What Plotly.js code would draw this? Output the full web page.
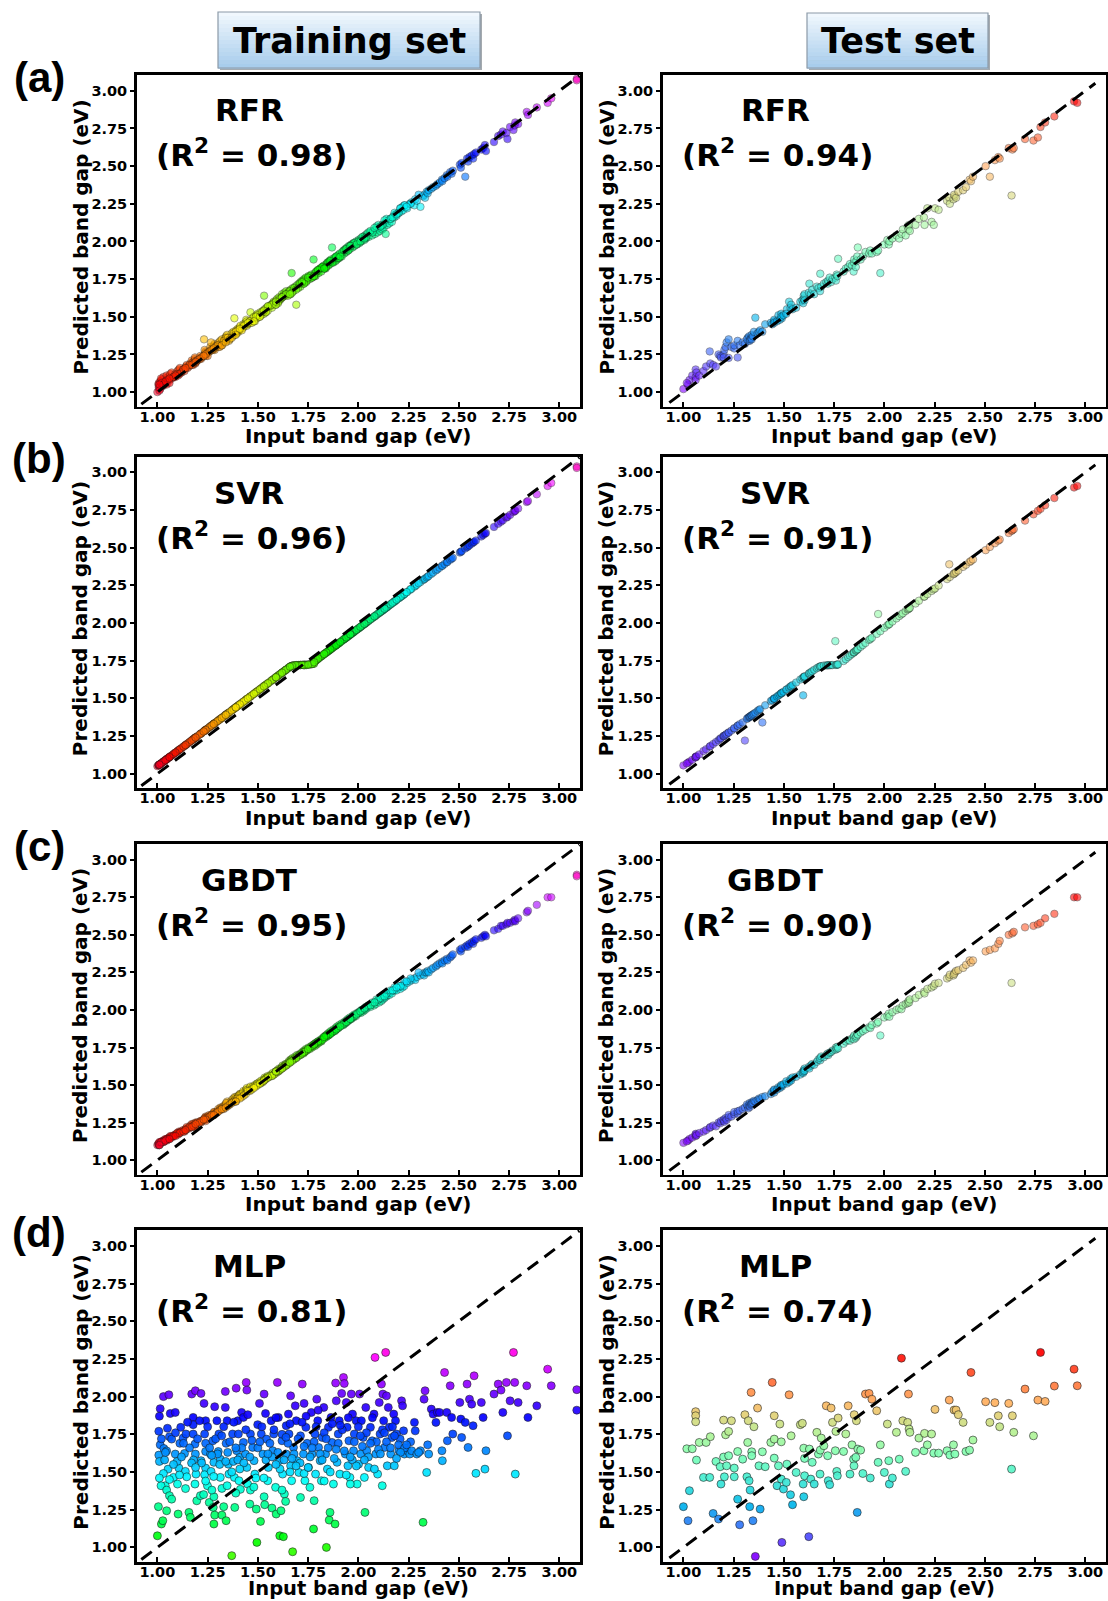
<!DOCTYPE html>
<html><head><meta charset="utf-8">
<script src="https://cdn.plot.ly/plotly-3.0.1.min.js"></script>
<style>html,body{margin:0;padding:0;background:#fff}</style>
</head><body><div id="chart" style="width:1108px;height:1601px"></div>
<script>
// ---------------- DATA ----------------
const tickVals = [1.00,1.25,1.50,1.75,2.00,2.25,2.50,2.75,3.00];
const tickText = ['1.00','1.25','1.50','1.75','2.00','2.25','2.50','2.75','3.00'];
const modelNames = ['RFR','SVR','GBDT','MLP'];
const r2Train = ['0.98','0.96','0.95','0.81'];
const r2Test = ['0.94','0.91','0.90','0.74'];
const panelLabels = ['(a)','(b)','(c)','(d)'];
const headerLabels = ['Training set','Test set'];
const xAxisTitle = 'Input band gap (eV)';
const yAxisTitle = 'Predicted band gap (eV)';
const diagTrain = [0.92, 3.10];
const diagTest = [0.93, 3.05];

// Training set: input band gap
const trainInput = [
1.000,1.005,1.020,1.027,1.014,1.030,1.057,1.010,1.007,1.014,1.032,1.046,1.007,1.010,1.036,1.053,1.039,1.018,1.046,1.060,1.046,1.071,1.064,1.089,1.060,1.071,1.089,1.080,1.100,1.103,1.107,1.098,1.116,1.112,
1.128,1.142,1.135,1.139,1.146,1.157,1.164,1.178,1.178,1.171,1.189,1.217,1.178,1.187,1.189,1.192,1.187,1.196,1.214,1.217,1.232,1.240,1.235,1.240,1.240,1.240,1.235,1.249,1.258,1.278,1.281,1.285,1.281,1.271,1.264,1.276,1.285,1.281,1.267,
1.296,1.306,1.303,1.313,1.313,1.321,1.330,1.321,1.338,1.338,1.347,1.342,1.353,1.356,1.347,1.342,1.370,1.374,1.378,1.383,1.385,1.392,1.400,1.403,1.395,1.410,1.406,1.413,1.419,1.428,1.428,1.438,1.442,1.445,1.445,1.449,1.460,1.463,1.463,
1.474,1.481,1.485,1.492,1.495,1.499,1.508,1.513,1.517,1.525,1.531,1.531,1.534,1.538,1.543,1.549,1.552,1.566,1.570,1.574,1.579,1.588,1.591,1.597,1.602,1.606,1.609,1.627,1.615,1.620,1.623,1.632,1.638,1.641,1.641,
1.652,1.655,1.663,1.663,1.668,1.673,1.677,1.686,1.691,1.695,1.704,1.712,1.712,1.721,1.727,1.730,1.734,1.739,1.745,1.752,1.759,1.766,1.770,1.777,1.784,1.787,1.793,1.798,1.802,1.810,1.816,1.820,
1.828,1.837,1.841,1.846,1.851,1.855,1.859,1.864,1.869,1.876,1.884,1.887,1.890,1.894,1.900,1.905,1.908,1.917,1.926,1.930,1.935,1.940,1.944,1.948,1.953,1.958,1.965,1.971,1.976,1.980,1.989,1.994,
2.001,2.006,2.012,2.015,2.024,2.030,2.033,2.037,2.042,2.051,2.060,2.069,2.078,2.083,2.087,2.096,2.104,2.108,2.115,2.119,2.122,2.126,2.131,2.136,2.140,2.144,2.149,2.154,2.161,2.167,2.176,
2.179,2.185,2.190,2.202,2.208,2.215,2.220,2.225,2.229,2.243,2.256,2.265,2.279,2.283,2.291,2.309,2.322,2.327,2.332,2.340,2.345,2.350,2.363,2.372,2.386,2.393,2.404,2.416,2.418,2.429,2.440,2.443,
2.457,2.464,2.470,2.505,2.510,2.514,2.532,2.541,2.546,2.553,2.564,2.571,2.576,2.585,2.612,2.621,2.630,2.635,2.675,2.696,2.710,2.719,2.737,2.742,2.755,2.772,2.778,2.781,2.795,2.838,2.844,2.888,2.942,2.960,3.087,3.087,
1.02,1.05,1.08,1.12,1.15,1.16,1.20,1.22,1.25,1.26,1.29,1.31,1.33,1.35,1.36,1.38,1.40,1.42,1.44,1.46,1.47,1.50,1.52,1.54,1.56,1.58,1.60,1.62,1.63,1.65,1.66,1.68,1.70,1.71,1.73,1.74,1.76,1.78,1.79,1.81,1.83,1.85,1.87,1.88,1.90,1.92,1.93,1.95,1.97,1.98,2.00,2.02,2.04,2.05,2.07,2.09,2.10,2.12,2.14,2.16,2.18,2.20,2.23,2.26,2.30,1.11,1.24,1.37,1.49,1.61,1.73,1.86,1.99,1.03,1.18,1.30,1.43,1.57,1.69,1.82,
1.04,1.09,1.13,1.17,1.21,1.27,1.32,1.39,1.45,1.51,1.55,1.59,1.64,1.67,1.72,1.77,1.80,1.84,1.89,1.91,1.96,2.01,2.06,2.11,2.13,2.17,2.21,2.24,1.06,1.14,1.19,1.28,1.34,1.41,1.48,1.53,1.59,1.66,1.75,1.83,1.94,2.03,2.08,2.19,1.01,1.23,1.39,1.62,1.78,1.96
];
const trainPredRFR = [
1.00,1.05,1.08,1.04,1.02,1.10,1.09,1.03,1.06,1.07,1.05,1.08,1.03,1.01,1.06,1.10,1.07,1.09,1.05,1.08,1.11,1.09,1.12,1.10,1.06,1.13,1.12,1.10,1.14,1.11,1.15,1.12,1.13,1.16,
1.15,1.17,1.14,1.16,1.18,1.17,1.19,1.20,1.18,1.21,1.19,1.23,1.20,1.22,1.21,1.20,1.23,1.21,1.24,1.22,1.35,1.26,1.25,1.27,1.24,1.26,1.28,1.26,1.27,1.30,1.29,1.28,1.31,1.29,1.30,1.28,1.32,1.30,1.33,
1.31,1.33,1.30,1.32,1.34,1.35,1.33,1.31,1.36,1.34,1.35,1.37,1.36,1.34,1.38,1.36,1.39,1.37,1.40,1.49,1.38,1.41,1.42,1.40,1.39,1.43,1.41,1.44,1.42,1.45,1.43,1.46,1.48,1.44,1.47,1.45,1.47,1.53,1.46,
1.49,1.50,1.47,1.51,1.49,1.52,1.50,1.53,1.51,1.54,1.64,1.52,1.55,1.53,1.56,1.54,1.57,1.58,1.56,1.59,1.60,1.58,1.61,1.62,1.60,1.63,1.61,1.64,1.62,1.65,1.63,1.66,1.64,1.67,1.65,
1.66,1.67,1.68,1.65,1.79,1.69,1.67,1.70,1.58,1.71,1.72,1.70,1.73,1.74,1.72,1.75,1.73,1.76,1.74,1.77,1.75,1.78,1.76,1.88,1.79,1.77,1.80,1.81,1.79,1.82,1.80,1.83,
1.84,1.82,1.85,1.86,1.84,1.87,1.85,1.88,1.96,1.86,1.89,1.87,1.90,1.88,1.91,1.89,1.92,1.90,1.94,1.92,1.95,1.93,1.96,1.94,1.97,1.95,1.98,1.96,1.99,1.97,2.00,1.98,
2.01,1.99,2.02,2.00,2.03,2.01,2.04,2.02,2.05,2.03,2.06,2.04,2.07,2.05,2.08,2.06,2.09,2.07,2.10,2.08,2.11,2.09,2.12,2.05,2.13,2.11,2.14,2.12,2.15,2.13,2.17,
2.16,2.18,2.17,2.19,2.22,2.20,2.23,2.21,2.24,2.22,2.25,2.26,2.24,2.28,2.27,2.23,2.30,2.31,2.29,2.33,2.32,2.34,2.35,2.36,2.37,2.38,2.39,2.41,2.40,2.42,2.44,2.43,
2.46,2.45,2.47,2.51,2.49,2.52,2.43,2.55,2.53,2.56,2.57,2.55,2.58,2.59,2.61,2.62,2.64,2.60,2.66,2.70,2.71,2.73,2.72,2.68,2.76,2.74,2.77,2.79,2.78,2.86,2.84,2.89,2.92,2.95,3.08,3.07,
1.06,1.08,1.10,1.13,1.16,1.18,1.21,1.23,1.24,1.27,1.30,1.30,1.34,1.36,1.35,1.39,1.41,1.41,1.45,1.47,1.46,1.51,1.53,1.53,1.57,1.59,1.59,1.63,1.64,1.64,1.67,1.69,1.69,1.72,1.74,1.73,1.77,1.77,1.80,1.82,1.82,1.86,1.86,1.89,1.89,1.93,1.94,1.94,1.98,1.99,2.00,2.03,2.03,2.06,2.06,2.10,2.11,2.11,2.15,2.15,2.19,2.19,2.24,2.25,2.31,1.12,1.25,1.36,1.50,1.62,1.72,1.87,1.98,1.05,1.19,1.31,1.44,1.58,1.68,1.83,
1.07,1.11,1.15,1.18,1.22,1.28,1.31,1.40,1.46,1.50,1.57,1.58,1.65,1.66,1.73,1.76,1.81,1.83,1.90,1.90,1.97,2.00,2.07,2.10,2.14,2.16,2.22,2.23,1.09,1.16,1.20,1.29,1.33,1.42,1.47,1.54,1.60,1.65,1.76,1.82,1.95,2.02,2.09,2.18,1.05,1.24,1.38,1.63,1.77,1.97
];
const trainPredSVR = [
1.05,1.055,1.07,1.077,1.064,1.08,1.107,1.06,1.057,1.064,1.082,1.096,1.057,1.06,1.086,1.103,1.089,1.068,1.096,1.11,1.096,1.121,1.114,1.139,1.11,1.121,1.139,1.13,1.15,1.153,1.157,1.148,1.166,1.162,
1.178,1.192,1.185,1.189,1.196,1.207,1.214,1.228,1.228,1.221,1.239,1.267,1.228,1.237,1.239,1.242,1.237,1.246,1.264,1.267,1.282,1.29,1.285,1.29,1.29,1.29,1.285,1.299,1.308,1.328,1.331,1.335,1.331,1.321,1.314,1.326,1.335,1.331,1.317,
1.346,1.356,1.353,1.363,1.363,1.371,1.38,1.371,1.388,1.388,1.397,1.392,1.403,1.406,1.397,1.392,1.42,1.424,1.428,1.433,1.435,1.442,1.45,1.453,1.445,1.46,1.456,1.463,1.469,1.478,1.478,1.488,1.492,1.495,1.495,1.499,1.51,1.513,1.513,
1.524,1.531,1.535,1.542,1.545,1.549,1.558,1.563,1.567,1.575,1.581,1.581,1.584,1.588,1.593,1.599,1.602,1.616,1.62,1.624,1.629,1.638,1.641,1.647,1.652,1.656,1.659,1.677,1.665,1.67,1.673,1.682,1.688,1.691,1.691,
1.702,1.705,1.712,1.713,1.716,1.718,1.719,1.72,1.721,1.721,1.722,1.722,1.722,1.723,1.723,1.723,1.724,1.724,1.724,1.725,1.726,1.727,1.728,1.73,1.745,1.75,1.755,1.76,1.765,1.773,1.779,1.783,
1.791,1.8,1.804,1.809,1.814,1.818,1.822,1.827,1.832,1.839,1.847,1.85,1.853,1.857,1.863,1.868,1.871,1.88,1.889,1.893,1.898,1.903,1.907,1.911,1.916,1.921,1.928,1.934,1.939,1.943,1.952,1.957,
1.964,1.969,1.975,1.978,1.987,1.993,1.996,2.0,2.005,2.014,2.023,2.032,2.041,2.046,2.05,2.059,2.067,2.071,2.078,2.082,2.085,2.089,2.094,2.099,2.103,2.107,2.112,2.117,2.124,2.13,2.139,
2.142,2.148,2.153,2.165,2.171,2.178,2.183,2.188,2.192,2.206,2.219,2.228,2.242,2.246,2.254,2.272,2.285,2.29,2.295,2.303,2.308,2.313,2.326,2.335,2.349,2.356,2.367,2.379,2.381,2.392,2.403,2.406,
2.42,2.427,2.433,2.468,2.473,2.477,2.495,2.504,2.509,2.516,2.527,2.534,2.539,2.548,2.575,2.584,2.593,2.598,2.638,2.659,2.673,2.682,2.7,2.705,2.718,2.737,2.743,2.746,2.76,2.804,2.81,2.855,2.91,2.93,3.04,3.03,
1.07,1.10,1.13,1.17,1.20,1.21,1.25,1.27,1.30,1.31,1.34,1.36,1.38,1.40,1.41,1.43,1.45,1.47,1.49,1.51,1.52,1.55,1.57,1.59,1.61,1.63,1.65,1.67,1.68,1.70,1.71,1.72,1.72,1.72,1.72,1.72,1.725,1.73,1.755,1.775,1.795,1.815,1.835,1.845,1.865,1.885,1.895,1.915,1.935,1.945,1.965,1.985,2.005,2.015,2.035,2.055,2.065,2.085,2.105,2.125,2.145,2.165,2.195,2.225,2.265,1.16,1.29,1.42,1.54,1.66,1.72,1.825,1.955,1.08,1.23,1.35,1.48,1.62,1.72,1.785,
1.09,1.14,1.18,1.22,1.26,1.32,1.37,1.44,1.50,1.56,1.60,1.64,1.69,1.715,1.722,1.728,1.765,1.805,1.855,1.875,1.925,1.975,2.025,2.075,2.095,2.135,2.175,2.205,1.11,1.19,1.24,1.33,1.39,1.46,1.53,1.58,1.64,1.71,1.724,1.795,1.905,1.995,2.045,2.155,1.06,1.28,1.44,1.67,1.74,1.925
];
const trainPredGBDT = [
1.10,1.11,1.12,1.13,1.11,1.12,1.15,1.10,1.11,1.12,1.13,1.14,1.10,1.12,1.13,1.14,1.14,1.12,1.13,1.15,1.14,1.15,1.16,1.17,1.14,1.16,1.17,1.16,1.18,1.17,1.19,1.18,1.19,1.18,
1.20,1.21,1.19,1.20,1.22,1.21,1.23,1.23,1.22,1.24,1.23,1.26,1.24,1.23,1.25,1.24,1.22,1.25,1.26,1.25,1.27,1.28,1.27,1.29,1.26,1.28,1.28,1.29,1.30,1.31,1.30,1.32,1.31,1.30,1.29,1.30,1.31,1.32,1.30,
1.32,1.33,1.34,1.34,1.35,1.35,1.36,1.34,1.36,1.37,1.37,1.36,1.38,1.37,1.39,1.38,1.40,1.39,1.41,1.40,1.42,1.42,1.42,1.43,1.41,1.44,1.43,1.44,1.44,1.45,1.46,1.46,1.47,1.46,1.48,1.47,1.48,1.49,1.47,
1.49,1.49,1.50,1.50,1.51,1.51,1.52,1.51,1.53,1.52,1.54,1.53,1.55,1.54,1.55,1.56,1.55,1.57,1.56,1.58,1.57,1.59,1.58,1.60,1.59,1.61,1.60,1.62,1.61,1.62,1.63,1.63,1.64,1.64,1.63,
1.65,1.66,1.66,1.67,1.67,1.68,1.67,1.69,1.68,1.70,1.70,1.71,1.70,1.72,1.71,1.73,1.72,1.74,1.73,1.75,1.74,1.76,1.75,1.77,1.76,1.78,1.77,1.79,1.78,1.80,1.79,1.81,
1.82,1.83,1.82,1.84,1.83,1.85,1.84,1.86,1.85,1.87,1.86,1.88,1.87,1.89,1.88,1.90,1.89,1.91,1.90,1.92,1.91,1.93,1.92,1.94,1.93,1.95,1.94,1.96,1.95,1.97,1.96,1.98,
1.98,1.99,1.98,2.00,1.99,2.01,2.00,2.02,2.01,2.03,2.02,2.04,2.03,2.05,2.04,2.06,2.05,2.07,2.06,2.08,2.07,2.09,2.08,2.10,2.09,2.10,2.11,2.10,2.12,2.11,2.13,
2.13,2.14,2.13,2.15,2.14,2.16,2.15,2.17,2.16,2.18,2.19,2.20,2.21,2.20,2.22,2.23,2.24,2.23,2.25,2.25,2.26,2.25,2.27,2.28,2.29,2.30,2.31,2.32,2.31,2.33,2.34,2.33,
2.35,2.36,2.37,2.40,2.39,2.41,2.42,2.43,2.42,2.44,2.45,2.44,2.46,2.47,2.48,2.49,2.50,2.49,2.53,2.54,2.56,2.56,2.57,2.58,2.58,2.59,2.60,2.59,2.61,2.65,2.66,2.70,2.75,2.75,2.90,2.89,
1.12,1.14,1.16,1.19,1.21,1.22,1.25,1.26,1.28,1.29,1.31,1.33,1.34,1.36,1.37,1.39,1.41,1.42,1.44,1.46,1.47,1.50,1.52,1.54,1.56,1.57,1.59,1.61,1.62,1.64,1.65,1.67,1.69,1.70,1.72,1.73,1.75,1.77,1.78,1.79,1.81,1.83,1.85,1.86,1.88,1.90,1.91,1.93,1.95,1.96,1.98,2.00,2.02,2.03,2.05,2.07,2.07,2.09,2.11,2.13,2.15,2.16,2.19,2.21,2.25,1.18,1.27,1.38,1.49,1.60,1.72,1.84,1.97,1.12,1.23,1.32,1.43,1.56,1.68,1.80,
1.13,1.16,1.19,1.22,1.25,1.30,1.34,1.39,1.46,1.51,1.55,1.59,1.63,1.66,1.71,1.76,1.79,1.83,1.87,1.89,1.94,1.99,2.03,2.08,2.09,2.13,2.16,2.19,1.14,1.20,1.24,1.30,1.35,1.41,1.48,1.53,1.59,1.65,1.74,1.82,1.92,2.01,2.05,2.15,1.10,1.27,1.39,1.61,1.77,1.94
];
const trainPredMLP = [
1.077,1.270,1.155,1.177,1.920,2.000,2.012,1.870,1.770,1.680,1.656,1.640,1.612,1.570,1.580,1.519,1.409,1.409,1.380,1.343,1.243,1.320,1.888,1.895,1.734,1.718,1.619,1.464,1.420,1.221,1.526,1.570,1.796,1.690,
1.725,1.752,1.623,1.504,1.468,1.232,1.199,1.862,1.814,2.017,2.039,2.021,1.752,1.685,1.619,1.486,1.420,1.309,1.343,1.575,1.955,1.840,1.752,1.690,1.636,1.526,1.482,1.409,1.298,1.265,1.155,1.214,1.336,1.380,1.619,1.707,1.933,1.564,1.504,
1.840,1.752,1.636,1.585,1.464,1.391,1.270,1.214,2.034,1.928,1.840,1.690,1.552,1.486,1.409,1.177,0.945,1.752,1.570,1.464,1.265,2.056,1.840,1.752,1.641,1.597,1.442,1.385,1.895,1.862,1.696,1.619,2.094,2.043,1.530,1.420,1.287,1.752,1.380,
1.663,1.575,1.486,1.254,1.033,1.814,1.955,1.172,1.752,1.619,2.017,1.336,1.283,1.888,1.718,1.442,1.530,1.840,1.261,1.641,1.752,1.398,1.221,2.094,1.862,1.575,1.077,1.071,1.243,1.707,1.486,1.354,1.305,1.807,1.619,
1.884,1.752,2.005,1.541,1.442,0.971,1.663,1.939,1.840,1.575,1.497,1.331,1.740,2.083,1.619,1.955,1.442,1.796,1.690,1.530,1.398,1.895,1.619,1.122,1.752,1.486,1.983,1.840,1.663,1.575,1.442,1.729,
1.928,1.619,1.000,1.519,1.796,1.181,1.232,1.862,1.696,1.420,1.155,2.090,1.972,1.564,1.752,1.840,1.486,2.021,2.127,2.087,1.619,1.961,1.796,1.541,1.707,1.464,2.017,1.884,1.641,1.752,1.840,1.420,
1.552,2.017,1.619,1.840,1.729,1.464,1.232,1.928,1.641,1.530,1.796,1.707,1.884,2.260,1.619,1.486,1.961,1.752,2.083,1.409,2.017,1.840,1.663,2.293,2.005,1.541,1.928,1.796,1.619,1.729,1.884,
1.541,1.840,1.752,1.641,1.718,1.972,1.939,1.773,1.619,1.641,1.619,1.641,1.829,1.773,1.619,1.641,1.166,1.983,2.039,1.497,1.680,1.619,1.917,1.884,1.829,1.895,1.895,1.641,1.575,2.160,1.895,1.707,
2.072,1.862,1.752,1.961,1.851,1.729,1.829,2.083,1.663,1.983,1.950,1.807,2.138,1.491,1.961,1.862,1.519,1.641,2.017,2.083,2.043,1.895,2.094,1.740,1.972,2.293,2.094,1.486,1.961,2.072,1.862,1.939,2.182,2.072,2.046,1.910,
1.72,1.79,1.55,1.60,1.83,1.66,1.72,1.56,1.80,1.66,1.72,1.55,1.80,1.63,1.70,1.83,1.58,1.66,1.78,1.60,1.71,1.66,1.80,1.58,1.69,1.78,1.63,1.75,1.58,1.69,1.82,1.62,1.72,1.56,1.67,1.87,1.60,1.70,1.80,1.62,1.76,1.66,1.82,1.59,1.69,1.78,1.64,1.86,1.58,1.70,1.80,1.67,1.76,1.60,1.86,1.70,1.65,1.78,1.70,1.66,1.74,1.68,1.66,1.70,1.63,1.48,1.44,1.50,1.46,1.52,1.49,1.50,1.54,1.49,1.58,1.62,1.56,1.60,1.54,1.58,
1.63,1.76,1.69,1.56,1.84,1.61,1.74,1.66,1.88,1.70,1.62,1.86,1.73,1.59,1.83,1.66,1.91,1.72,1.65,1.81,1.60,1.74,1.69,1.62,1.76,1.80,1.63,1.68,1.45,1.39,1.53,1.47,1.57,1.52,1.40,1.46,1.55,1.50,1.53,1.44,1.48,1.58,1.52,1.59,1.46,1.35,1.36,1.38,1.31,1.42
];

// Test set: input band gap
const testInput = [
1.000,1.023,1.030,1.017,1.044,1.061,1.061,1.061,1.065,1.079,
1.100,1.113,1.131,1.134,1.148,1.162,1.175,1.183,1.187,1.200,
1.200,1.204,1.210,1.215,1.225,1.225,1.239,1.253,1.253,1.270,
1.270,1.280,1.295,1.306,1.320,1.323,1.316,1.327,1.330,1.332,
1.337,1.340,1.340,1.346,1.351,1.358,1.369,1.376,1.382,1.393,
1.407,1.435,1.442,1.452,1.452,1.452,1.466,1.473,1.480,1.487,
1.490,1.487,1.498,1.515,1.512,1.526,1.533,1.536,1.543,1.561,
1.582,1.592,1.596,1.599,1.599,1.603,1.603,1.624,1.627,1.634,
1.641,1.651,1.664,1.672,1.681,1.680,1.686,1.699,1.711,1.718,
1.721,1.728,1.735,1.742,1.756,1.759,1.763,1.766,1.770,1.797,
1.808,1.820,1.829,1.839,1.847,1.849,1.850,1.858,1.861,1.865,
1.868,1.882,1.893,1.906,1.924,1.930,1.938,1.962,1.969,1.980,
2.000,2.015,2.022,2.025,2.040,2.060,2.074,2.085,2.092,2.106,
2.116,2.120,2.123,2.127,2.155,2.172,2.197,2.200,2.214,2.235,
2.246,2.252,2.270,2.312,2.323,2.326,2.344,2.351,2.347,2.357,
2.368,2.392,2.406,2.424,2.431,2.441,2.504,2.525,2.550,2.567,
2.574,2.619,2.633,2.637,2.644,2.700,2.742,2.764,2.777,2.800,
2.846,2.944,2.960
];
const testPredRFR = [
1.020,1.050,1.080,1.060,1.110,1.150,1.100,1.080,1.130,1.110,
1.140,1.170,1.270,1.190,1.180,1.170,1.250,1.240,1.230,1.250,
1.230,1.280,1.300,1.330,1.350,1.227,1.300,1.290,1.310,1.340,
1.230,1.310,1.330,1.320,1.360,1.340,1.350,1.370,1.340,1.350,
1.360,1.380,1.350,1.370,1.400,1.494,1.390,1.400,1.410,1.400,
1.450,1.460,1.450,1.470,1.480,1.460,1.470,1.510,1.480,1.520,
1.490,1.500,1.510,1.550,1.520,1.600,1.560,1.580,1.550,1.560,
1.600,1.610,1.590,1.620,1.640,1.650,1.610,1.660,1.720,1.650,
1.680,1.650,1.700,1.690,1.786,1.670,1.700,1.720,1.730,1.720,
1.740,1.760,1.730,1.750,1.760,1.740,1.780,1.770,1.885,1.800,
1.820,1.830,1.850,1.840,1.800,1.860,1.880,1.830,1.870,1.900,
1.960,1.880,1.900,1.930,1.920,1.940,1.920,1.930,1.940,1.790,
1.980,2.010,1.980,2.000,2.020,2.040,2.020,2.050,2.080,2.040,
2.100,2.080,2.110,2.070,2.110,2.150,2.160,2.110,2.220,2.130,
2.110,2.220,2.210,2.270,2.290,2.250,2.280,2.300,2.310,2.290,
2.330,2.340,2.360,2.410,2.400,2.430,2.500,2.430,2.540,2.560,
2.550,2.620,2.305,2.610,2.620,2.680,2.670,2.690,2.760,2.790,
2.830,2.930,2.920
];
const testPredSVR = [
1.055,1.072,1.080,1.068,1.092,1.110,1.112,1.108,1.115,1.128,
1.150,1.162,1.180,1.183,1.197,1.210,1.222,1.232,1.236,1.248,
1.250,1.252,1.258,1.264,1.274,1.272,1.286,1.300,1.302,1.318,
1.318,1.328,1.340,1.220,1.368,1.372,1.364,1.375,1.378,1.380,
1.385,1.388,1.386,1.393,1.398,1.405,1.416,1.423,1.428,1.340,
1.454,1.482,1.488,1.498,1.500,1.497,1.512,1.519,1.526,1.533,
1.536,1.534,1.544,1.560,1.558,1.571,1.578,1.581,1.588,1.605,
1.625,1.634,1.520,1.641,1.640,1.645,1.646,1.664,1.667,1.673,
1.680,1.690,1.700,1.706,1.712,1.711,1.714,1.718,1.719,1.720,
1.720,1.720,1.721,1.721,1.880,1.722,1.723,1.724,1.726,1.748,
1.760,1.774,1.784,1.795,1.804,1.806,1.807,1.816,1.819,1.824,
1.827,1.842,1.854,1.868,1.888,1.894,1.902,1.928,2.060,1.946,
1.968,1.984,1.991,1.994,2.010,2.031,2.046,2.058,2.065,2.080,
2.090,2.094,2.097,2.101,2.130,2.148,2.174,2.177,2.192,2.213,
2.224,2.230,2.249,2.292,2.390,2.306,2.324,2.332,2.328,2.338,
2.349,2.373,2.387,2.405,2.412,2.422,2.484,2.505,2.530,2.547,
2.554,2.598,2.612,2.616,2.623,2.680,2.722,2.745,2.758,2.782,
2.830,2.900,2.910
];
const testPredGBDT = [
1.115,1.130,1.140,1.125,1.150,1.170,1.160,1.175,1.165,1.180,
1.190,1.200,1.215,1.220,1.230,1.225,1.250,1.245,1.260,1.262,
1.270,1.255,1.280,1.268,1.285,1.300,1.290,1.305,1.320,1.310,
1.325,1.330,1.340,1.350,1.360,1.345,1.370,1.365,1.380,1.355,
1.370,1.385,1.375,1.380,1.395,1.390,1.400,1.410,1.405,1.420,
1.425,1.440,1.455,1.450,1.465,1.470,1.470,1.485,1.480,1.495,
1.490,1.500,1.505,1.510,1.525,1.520,1.540,1.530,1.550,1.555,
1.570,1.585,1.580,1.600,1.590,1.610,1.595,1.620,1.610,1.630,
1.640,1.635,1.655,1.670,1.665,1.680,1.690,1.685,1.700,1.710,
1.700,1.715,1.720,1.730,1.735,1.750,1.740,1.755,1.745,1.775,
1.790,1.800,1.795,1.810,1.820,1.805,1.830,1.815,1.825,1.840,
1.835,1.850,1.860,1.870,1.885,1.880,1.900,1.910,1.920,1.830,
1.950,1.960,1.975,1.955,1.985,2.000,2.010,2.005,2.030,2.040,
2.045,2.060,2.050,2.070,2.080,2.100,2.120,2.110,2.140,2.150,
2.160,2.175,2.180,2.210,2.220,2.235,2.230,2.250,2.240,2.260,
2.265,2.280,2.300,2.330,2.315,2.330,2.390,2.400,2.410,2.440,
2.460,2.500,2.180,2.510,2.520,2.550,2.560,2.570,2.580,2.610,
2.640,2.750,2.750
];
const testPredMLP = [
1.270,1.177,1.376,1.654,1.654,1.900,1.873,1.833,1.579,1.696,
1.464,1.696,1.464,1.734,1.225,1.570,1.188,1.535,1.420,1.844,
1.599,1.468,1.747,1.541,1.769,1.608,1.840,1.526,1.468,1.636,
1.320,1.150,1.585,1.880,1.696,1.840,1.468,1.442,1.270,1.380,
2.028,1.634,1.608,1.177,1.800,0.940,1.924,1.541,1.254,1.634,
1.535,1.696,2.094,1.873,1.718,1.592,1.409,1.541,1.818,1.700,
1.033,1.453,1.387,1.552,1.431,2.012,1.349,1.740,1.283,1.497,
1.814,1.823,1.420,1.336,1.658,1.475,1.590,1.071,1.652,1.453,
1.564,1.420,1.763,1.619,1.645,1.486,1.725,1.674,1.939,1.608,
1.442,1.416,1.924,1.829,1.641,1.769,1.504,1.475,1.858,1.636,
1.752,1.939,1.486,1.680,1.585,1.541,1.880,1.597,1.840,1.232,
1.652,1.645,1.490,2.017,2.021,1.460,1.983,1.906,1.564,1.680,
1.497,1.818,1.575,1.420,1.460,1.763,1.585,2.255,1.840,1.504,
1.829,2.017,1.785,1.763,1.630,1.725,1.641,1.756,1.680,1.752,
1.625,1.915,1.625,1.641,1.977,1.612,1.680,1.619,1.911,1.911,
1.880,1.829,1.636,1.645,2.160,1.712,1.966,1.829,1.960,1.873,
1.800,1.955,1.519,1.873,1.763,2.050,1.740,1.977,2.293,1.968,
2.070,2.182,2.072
];

// ---------------- STYLE ----------------
const gistRainbow = [[0,'rgb(255,0,41)'],[0.03,'rgb(255,0,0)'],[0.215,'rgb(255,255,0)'],[0.4,'rgb(0,255,0)'],[0.586,'rgb(0,255,255)'],[0.77,'rgb(0,0,255)'],[0.954,'rgb(255,0,255)'],[1,'rgb(255,0,191)']];
const rainbow = [[0,'rgb(128,0,255)'],[0.1,'rgb(77,79,252)'],[0.2,'rgb(26,150,243)'],[0.25,'rgb(0,180,236)'],[0.3,'rgb(26,206,227)'],[0.4,'rgb(77,243,206)'],[0.5,'rgb(128,255,180)'],[0.6,'rgb(179,243,150)'],[0.7,'rgb(230,206,116)'],[0.75,'rgb(255,180,98)'],[0.8,'rgb(255,150,79)'],[0.9,'rgb(255,79,40)'],[1,'rgb(255,0,0)']];

const W = 1108, H = 1601;
const colLeftPx = [136.7, 662.7], colRightPx = [580, 1106];
const colDom = [[colLeftPx[0]/W, colRightPx[0]/W],[colLeftPx[1]/W, colRightPx[1]/W]];
const rowTopPx = [75, 456.6, 844, 1230];
const rowBotPx = [406.7, 788.3, 1174.7, 1562];
const rowDom = rowTopPx.map((t,i)=>[1-rowBotPx[i]/H, 1-t/H]);

const trainPreds = [trainPredRFR, trainPredSVR, trainPredGBDT, trainPredMLP];
const testPreds = [testPredRFR, testPredSVR, testPredGBDT, testPredMLP];

const FONT = 'DejaVu Sans';
const data = [];
const layout = {
  width: W, height: H, margin: {l:0,r:0,t:0,b:0},
  paper_bgcolor: '#ffffff', plot_bgcolor: '#ffffff', showlegend: false,
  annotations: [], shapes: []
};
const titleFont = {family: FONT, size: 20, weight: 'bold', color: '#000'};
const tickFont = {family: FONT, size: 14.5, weight: 'bold', color: '#000'};

for (let r = 0; r < 4; r++) {
  for (let c = 0; c < 2; c++) {
    const k = r*2 + c + 1;
    const sx = k === 1 ? '' : String(k);
    const xs = c === 0 ? trainInput : testInput;
    const ys = c === 0 ? trainPreds[r] : testPreds[r];
    let cmin = Math.min(...ys), cmax = Math.max(...ys);
    if (c === 0 && r === 3) { cmin = 0.17; cmax = 2.36; }
    const isMLP = r === 3;
    data.push({
      type: 'scatter', mode: 'markers', x: xs, y: ys, xaxis: 'x'+sx, yaxis: 'y'+sx,
      hoverinfo: 'skip',
      marker: {
        size: isMLP ? 8 : 7.5, color: ys, colorscale: c === 0 ? gistRainbow : rainbow,
        cmin: cmin, cmax: cmax, opacity: isMLP ? 0.92 : 0.6,
        line: {color: 'rgba(20,20,20,0.85)', width: 0.7}
      }
    });
    const diag = c === 0 ? diagTrain : diagTest;
    data.push({
      type: 'scatter', mode: 'lines', x: diag, y: diag, xaxis: 'x'+sx, yaxis: 'y'+sx,
      hoverinfo: 'skip', line: {color: '#000', width: 3, dash: '13px,8px'}
    });
    layout['xaxis'+sx] = {
      domain: colDom[c], anchor: 'y'+sx, range: [0.897, 3.103],
      tickvals: tickVals, ticktext: tickText, ticks: 'inside', ticklen: 5, tickwidth: 2, tickcolor: '#000',
      ticklabelstandoff: -5,
      showline: true, mirror: true, linewidth: 2.6, linecolor: '#000',
      showgrid: false, zeroline: false, tickfont: tickFont
    };
    layout['yaxis'+sx] = {
      domain: rowDom[r], anchor: 'x'+sx, range: [0.903, 3.105],
      tickvals: tickVals, ticktext: tickText, ticks: 'outside', ticklen: 4, tickwidth: 2, tickcolor: '#000',
      showline: true, mirror: true, linewidth: 2.6, linecolor: '#000',
      showgrid: false, zeroline: false, tickfont: tickFont
    };
    // axis titles
    const lastRow = r === 3;
    layout.annotations.push({
      xref: 'paper', yref: 'paper', x: (colLeftPx[c]+colRightPx[c])/2/W,
      y: lastRow ? 0 : 1-(rowBotPx[r]+29.5)/H, borderpad: lastRow ? 0 : 1,
      text: xAxisTitle, showarrow: false, xanchor: 'center', yanchor: lastRow ? 'bottom' : 'middle',
      font: lastRow ? {family: FONT, size: 19.5, weight: 'bold', color: '#000'} : titleFont
    });
    layout.annotations.push({
      xref: 'paper', yref: 'paper', x: (colLeftPx[c]-56)/W, y: 1-((rowTopPx[r]+rowBotPx[r])/2-4)/H,
      text: yAxisTitle, textangle: -90, showarrow: false, xanchor: 'center', yanchor: 'middle', font: titleFont
    });
    const r2 = c === 0 ? r2Train[r] : r2Test[r];
    layout.annotations.push({
      xref: 'x'+sx+' domain', yref: 'y'+sx+' domain', x: 0.254, y: r === 0 ? 0.8945 : 0.891,
      text: modelNames[r], showarrow: false, xanchor: 'center', yanchor: 'middle',
      font: {family: FONT, size: 31, weight: 'bold', color: '#000'}
    });
    layout.annotations.push({
      xref: 'x'+sx+' domain', yref: 'y'+sx+' domain', x: 0.258, y: r === 0 ? 0.765 : 0.761,
      text: '(R<sup>2</sup> = ' + r2 + ')', showarrow: false, xanchor: 'center', yanchor: 'middle',
      font: {family: FONT, size: 31, weight: 'bold', color: '#000'}
    });
  }
  layout.annotations.push({
    xref: 'paper', yref: 'paper', x: 39/W, y: 1 - (rowTopPx[r] + 2)/H,
    text: panelLabels[r], showarrow: false, xanchor: 'center', yanchor: 'middle',
    font: {family: 'Liberation Sans', size: 42, weight: 'bold', color: '#000'}
  });
}

// header boxes (gradient made of thin strips)
const headerBoxes = [[218, 480, 12, 68], [807, 988, 13, 68]];
headerBoxes.forEach((b, i) => {
  const [x0, x1, y0, y1] = b;
  layout.shapes.push({type:'rect', xref:'paper', yref:'paper', x0:(x0+2)/W, x1:(x1+2)/W, y0:1-(y1+2)/H, y1:1-(y0+2)/H,
    fillcolor:'rgba(90,100,110,0.55)', line:{width:0}, layer:'below'});
  const n = 14;
  const top = [240,247,253], bot = [168,205,236];
  for (let s = 0; s < n; s++) {
    const f = s/(n-1);
    const col = 'rgb(' + top.map((v,j)=>Math.round(v + (bot[j]-v)*f)).join(',') + ')';
    const ya = y0 + (y1-y0)*s/n, yb = y0 + (y1-y0)*(s+1)/n;
    layout.shapes.push({type:'rect', xref:'paper', yref:'paper', x0:x0/W, x1:x1/W, y0:1-yb/H-0.0004, y1:1-ya/H,
      fillcolor: col, line:{width:0}, layer:'below'});
  }
  layout.shapes.push({type:'rect', xref:'paper', yref:'paper', x0:x0/W, x1:x1/W, y0:1-y1/H, y1:1-y0/H,
    fillcolor:'rgba(0,0,0,0)', line:{color:'#8c9aa8', width:1.2}, layer:'below'});
  layout.annotations.push({
    xref:'paper', yref:'paper', x:(x0+x1)/2/W, y:1-((y0+y1)/2+1)/H, text: headerLabels[i], showarrow:false,
    xanchor:'center', yanchor:'middle', font:{family: FONT, size: 35, weight:'bold', color:'#000'}
  });
});

Plotly.newPlot('chart', data, layout, {staticPlot: true, displayModeBar: false});
</script>
</body></html>
